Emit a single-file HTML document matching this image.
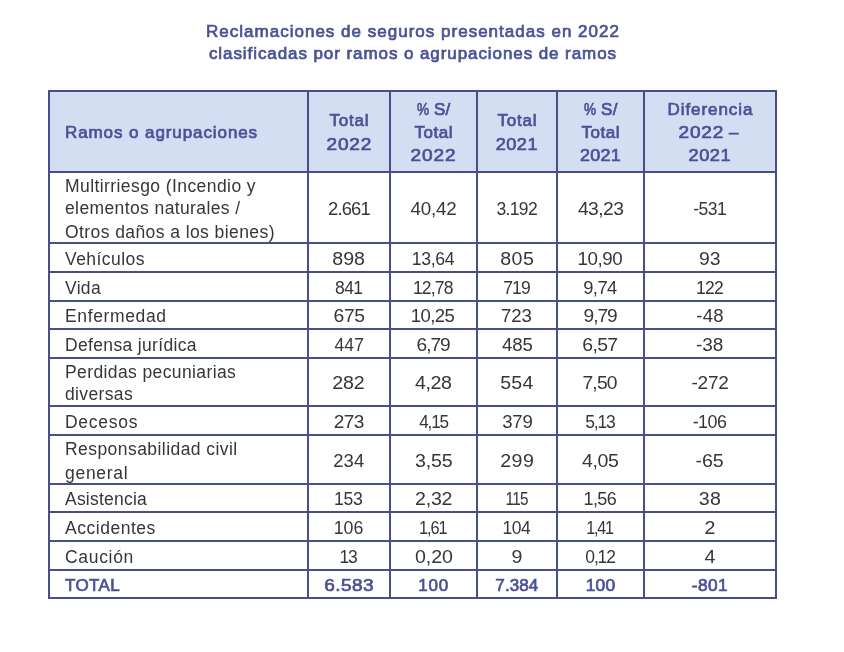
<!DOCTYPE html>
<html lang="es">
<head>
<meta charset="utf-8">
<title>Reclamaciones de seguros 2022</title>
<style>
html,body{margin:0;padding:0;background:#fff;}
body{width:844px;height:652px;position:relative;overflow:hidden;font-family:"Liberation Sans",Arial,sans-serif;}
.title{position:absolute;left:0;top:21px;width:825px;text-align:center;color:#4a5296;font-weight:normal;-webkit-text-stroke:0.7px #4a5296;font-size:17px;line-height:22px;white-space:nowrap;}
table{position:absolute;left:48px;top:90px;border-collapse:collapse;table-layout:fixed;width:729px;}
td,th{border:2px solid #484e88;padding:0;font-size:17.5px;color:#36363a;text-align:center;vertical-align:middle;line-height:22.7px;font-weight:normal;white-space:nowrap;}
td>div,th>div{position:relative;top:1px;}
th{background:#d4def3;color:#4a5296;font-weight:normal;-webkit-text-stroke:0.7px #4a5296;line-height:23.2px;font-size:17px;}
td.l,th.l{text-align:left;padding-left:15px;}
tr.tot td{color:#4a5296;font-weight:normal;-webkit-text-stroke:0.7px #4a5296;font-size:17px;}
.n{display:inline-block;}
.p{display:inline-block;transform:scaleX(0.8);transform-origin:0 50%;margin-right:-3.1px;}
</style>
</head>
<body>
<div class="title"><span style="letter-spacing:1.01px;margin-right:-1.01px">Reclamaciones de seguros presentadas en 2022</span><br><span style="letter-spacing:0.92px;margin-right:-0.92px">clasificadas por ramos o agrupaciones de ramos</span></div>
<table>
<colgroup><col style="width:259px"><col style="width:82px"><col style="width:87px"><col style="width:80px"><col style="width:87px"><col style="width:132px"></colgroup>
<tr style="height:81px"><th class="l"><div><span style="letter-spacing:0.91px;margin-right:-0.91px">Ramos o agrupaciones</span></div></th><th><div><span style="letter-spacing:0.76px;margin-right:-0.76px">Total</span><br><span class="n" style="transform:scaleX(1.120);letter-spacing:0.69px;margin:0 -1.20px 0 -0.50px">2022</span></div></th><th><div><span style="letter-spacing:0.24px;margin-right:-0.24px"><span class="p">%</span> S/</span><br><span style="letter-spacing:0.50px;margin-right:-0.50px">Total</span><br><span class="n" style="transform:scaleX(1.120);letter-spacing:0.77px;margin:0 -1.27px 0 -0.50px">2022</span></div></th><th><div><span style="letter-spacing:0.76px;margin-right:-0.76px">Total</span><br><span class="n" style="transform:scaleX(1.067);letter-spacing:0.47px;margin:0 -0.95px 0 -0.50px">2021</span></div></th><th><div><span style="letter-spacing:0.32px;margin-right:-0.32px"><span class="p">%</span> S/</span><br><span style="letter-spacing:0.50px;margin-right:-0.50px">Total</span><br><span class="n" style="transform:scaleX(1.056);letter-spacing:0.24px;margin:0 -0.72px 0 -0.50px">2021</span></div></th><th><div><span style="letter-spacing:0.92px;margin-right:-0.92px">Diferencia</span><br><span><span class="n" style="transform:scaleX(1.120);letter-spacing:0.69px;margin:0 -1.20px 0 -0.50px">2022</span><span style="letter-spacing:4.00px"> </span>–</span><br><span class="n" style="transform:scaleX(1.072);letter-spacing:0.47px;margin:0 -0.95px 0 -0.50px">2021</span></div></th></tr>
<tr style="height:71px"><td class="l"><div style="top:1.2px"><span style="letter-spacing:0.42px;margin-right:-0.42px">Multirriesgo (Incendio y</span><br><span style="letter-spacing:0.39px;margin-right:-0.39px">elementos naturales /</span><br><span style="position:relative;top:1px;letter-spacing:0.42px;margin-right:-0.42px">Otros daños a los bienes)</span></div></td><td><div style="top:2px"><span class="n" style="transform:scaleX(1.050);letter-spacing:-0.78px;margin:0 -0.07px 0 -0.88px">2.661</span></div></td><td><div style="top:2px"><span class="n" style="transform:scaleX(1.075);letter-spacing:-0.20px;margin:0 -0.68px 0 -0.40px">40,42</span></div></td><td><div style="top:2px"><span class="n" style="letter-spacing:-0.67px;margin:0 -0.21px 0 -0.67px">3.192</span></div></td><td><div style="top:2px"><span class="n" style="transform:scaleX(1.102);letter-spacing:-0.48px;margin:0 -0.29px 0 -0.40px">43,23</span></div></td><td><div style="top:2px"><span class="n" style="letter-spacing:-0.46px;margin:0 -0.39px 0 -0.78px">-531</span></div></td></tr>
<tr style="height:29px"><td class="l"><div style="top:2px"><span style="letter-spacing:0.44px;margin-right:-0.44px">Vehículos</span></div></td><td><div style="top:2px"><span class="n" style="transform:scaleX(1.120);margin:0 -0.76px 0 -0.76px">898</span></div></td><td><div style="top:2px"><span class="n" style="transform:scaleX(1.009);letter-spacing:-0.37px;margin:0 -0.14px 0 -1.33px">13,64</span></div></td><td><div style="top:2px"><span class="n" style="transform:scaleX(1.120);letter-spacing:0.43px;margin:0 -1.17px 0 -0.76px">805</span></div></td><td><div style="top:2px"><span class="n" style="transform:scaleX(1.073);letter-spacing:-0.42px;margin:0 -0.26px 0 -1.33px">10,90</span></div></td><td><div style="top:2px"><span class="n" style="transform:scaleX(1.107);margin:0 -0.77px 0 -0.82px">93</span></div></td></tr>
<tr style="height:29px"><td class="l"><div style="top:2px"><span style="letter-spacing:0.31px;margin-right:-0.31px">Vida</span></div></td><td><div style="top:2px"><span class="n" style="letter-spacing:-0.62px;margin:0 -0.23px 0 -0.76px">841</span></div></td><td><div style="top:2px"><span class="n" style="letter-spacing:-0.78px;margin:0 0.02px 0 -1.33px">12,78</span></div></td><td><div style="top:2px"><span class="n" style="letter-spacing:-0.94px;margin:0 0.12px 0 -0.90px">719</span></div></td><td><div style="top:2px"><span class="n" style="transform:scaleX(1.049);letter-spacing:-0.55px;margin:0 0.04px 0 -0.82px">9,74</span></div></td><td><div style="top:2px"><span class="n" style="letter-spacing:-0.71px;margin:0 -0.17px 0 -1.33px">122</span></div></td></tr>
<tr style="height:28px"><td class="l"><div><span style="letter-spacing:0.64px;margin-right:-0.64px">Enfermedad</span></div></td><td><div><span class="n" style="transform:scaleX(1.105);letter-spacing:-0.34px;margin:0 -0.39px 0 -0.89px">675</span></div></td><td><div><span class="n" style="transform:scaleX(1.060);letter-spacing:-0.56px;margin:0 -0.18px 0 -1.33px">10,25</span></div></td><td><div><span class="n" style="transform:scaleX(1.065);letter-spacing:-0.15px;margin:0 -0.62px 0 -0.90px">723</span></div></td><td><div><span class="n" style="transform:scaleX(1.094);letter-spacing:-0.98px;margin:0 0.15px 0 -0.82px">9,79</span></div></td><td><div><span class="n" style="transform:scaleX(1.062);letter-spacing:0.27px;margin:0 -1.03px 0 -0.78px">-48</span></div></td></tr>
<tr style="height:29px"><td class="l"><div style="top:2px"><span style="letter-spacing:0.34px;margin-right:-0.34px">Defensa jurídica</span></div></td><td><div style="top:2px"><span class="n" style="letter-spacing:0.19px;margin:0 -1.07px 0 -0.40px">447</span></div></td><td><div style="top:2px"><span class="n" style="transform:scaleX(1.095);letter-spacing:-0.96px;margin:0 0.13px 0 -0.89px">6,79</span></div></td><td><div style="top:2px"><span class="n" style="transform:scaleX(1.066);letter-spacing:-0.09px;margin:0 -0.64px 0 -0.40px">485</span></div></td><td><div style="top:2px"><span class="n" style="transform:scaleX(1.107);letter-spacing:-0.58px;margin:0 -0.30px 0 -0.89px">6,57</span></div></td><td><div style="top:2px"><span class="n" style="transform:scaleX(1.085);letter-spacing:0.01px;margin:0 -0.77px 0 -0.78px">-38</span></div></td></tr>
<tr style="height:48px"><td class="l"><div style="top:1.4px"><span style="letter-spacing:0.39px;margin-right:-0.39px">Perdidas pecuniarias</span><br><span style="letter-spacing:0.36px;margin-right:-0.36px">diversas</span></div></td><td><div><span class="n" style="transform:scaleX(1.120);letter-spacing:-0.10px;margin:0 -0.78px 0 -0.88px">282</span></div></td><td><div><span class="n" style="transform:scaleX(1.120);letter-spacing:-0.40px;margin:0 -0.36px 0 -0.40px">4,28</span></div></td><td><div><span class="n" style="transform:scaleX(1.116);letter-spacing:0.21px;margin:0 -0.73px 0 -0.70px">554</span></div></td><td><div><span class="n" style="transform:scaleX(1.103);letter-spacing:-0.73px;margin:0 0.05px 0 -0.90px">7,50</span></div></td><td><div><span class="n" style="transform:scaleX(1.087);letter-spacing:-0.23px;margin:0 -0.65px 0 -0.78px">-272</span></div></td></tr>
<tr style="height:29px"><td class="l"><div style="top:2px"><span style="letter-spacing:0.73px;margin-right:-0.73px">Decesos</span></div></td><td><div style="top:2px"><span class="n" style="transform:scaleX(1.087);letter-spacing:-0.55px;margin:0 -0.22px 0 -0.88px">273</span></div></td><td><div style="top:2px"><span class="n" style="transform:scaleX(0.979);letter-spacing:-1.25px;margin:0 0.52px 0 -0.40px">4,15</span></div></td><td><div style="top:2px"><span class="n" style="transform:scaleX(1.061);letter-spacing:-0.18px;margin:0 -0.65px 0 -0.67px">379</span></div></td><td><div style="top:2px"><span class="n" style="letter-spacing:-1.18px;margin:0 0.41px 0 -0.70px">5,13</span></div></td><td><div style="top:2px"><span class="n" style="transform:scaleX(1.020);letter-spacing:-0.48px;margin:0 -0.29px 0 -0.78px">-106</span></div></td></tr>
<tr style="height:49px"><td class="l"><div style="top:1.4px"><span style="letter-spacing:0.44px;margin-right:-0.44px">Responsabilidad civil</span><br><span style="position:relative;top:1px;letter-spacing:0.71px;margin-right:-0.71px">general</span></div></td><td><div style="top:2px"><span class="n" style="transform:scaleX(1.054);letter-spacing:0.14px;margin:0 -0.65px 0 -0.88px">234</span></div></td><td><div style="top:2px"><span class="n" style="transform:scaleX(1.120);letter-spacing:-0.14px;margin:0 -0.59px 0 -0.67px">3,55</span></div></td><td><div style="top:2px"><span class="n" style="transform:scaleX(1.120);letter-spacing:0.41px;margin:0 -1.24px 0 -0.88px">299</span></div></td><td><div style="top:2px"><span class="n" style="transform:scaleX(1.120);letter-spacing:-0.36px;margin:0 -0.38px 0 -0.40px">4,05</span></div></td><td><div style="top:2px"><span class="n" style="transform:scaleX(1.120);letter-spacing:-0.08px;margin:0 -0.66px 0 -0.78px">-65</span></div></td></tr>
<tr style="height:28px"><td class="l"><div><span style="letter-spacing:0.22px;margin-right:-0.22px">Asistencia</span></div></td><td><div><span class="n" style="transform:scaleX(1.006);letter-spacing:-0.19px;margin:0 -0.58px 0 -1.33px">153</span></div></td><td><div><span class="n" style="transform:scaleX(1.120);letter-spacing:-0.20px;margin:0 -0.68px 0 -0.88px">2,32</span></div></td><td><div><span class="n" style="transform:scaleX(0.874);letter-spacing:-0.87px;margin:0 0.14px 0 -1.33px">115</span></div></td><td><div><span class="n" style="transform:scaleX(1.029);letter-spacing:-0.61px;margin:0 -0.16px 0 -1.33px">1,56</span></div></td><td><div><span class="n" style="transform:scaleX(1.120);letter-spacing:0.35px;margin:0 -1.12px 0 -0.67px">38</span></div></td></tr>
<tr style="height:29px"><td class="l"><div style="top:2px"><span style="letter-spacing:0.53px;margin-right:-0.53px">Accidentes</span></div></td><td><div style="top:2px"><span class="n" style="transform:scaleX(1.019);letter-spacing:-0.06px;margin:0 -0.71px 0 -1.33px">106</span></div></td><td><div style="top:2px"><span class="n" style="transform:scaleX(0.934);letter-spacing:-1.10px;margin:0 0.25px 0 -1.33px">1,61</span></div></td><td><div style="top:2px"><span class="n" style="letter-spacing:-0.48px;margin:0 -0.04px 0 -1.33px">104</span></div></td><td><div style="top:2px"><span class="n" style="transform:scaleX(0.919);letter-spacing:-1.25px;margin:0 0.40px 0 -1.33px">1,41</span></div></td><td><div style="top:2px"><span class="n" style="transform:scaleX(1.120);margin:0 -0.88px 0 -0.88px">2</span></div></td></tr>
<tr style="height:29px"><td class="l"><div style="top:2px"><span style="letter-spacing:0.69px;margin-right:-0.69px">Caución</span></div></td><td><div style="top:2px"><span class="n" style="letter-spacing:-1.25px;margin:0 0.48px 0 -1.33px">13</span></div></td><td><div style="top:2px"><span class="n" style="transform:scaleX(1.120);letter-spacing:-0.06px;margin:0 -0.62px 0 -0.68px">0,20</span></div></td><td><div style="top:2px"><span class="n" style="transform:scaleX(1.120);margin:0 -0.83px 0 -0.82px">9</span></div></td><td><div style="top:2px"><span class="n" style="letter-spacing:-1.15px;margin:0 0.27px 0 -0.68px">0,12</span></div></td><td><div style="top:2px"><span class="n" style="transform:scaleX(1.120);margin:0 -0.51px 0 -0.40px">4</span></div></td></tr>
<tr class="tot" style="height:28px"><td class="l"><div style="top:2.4px"><span style="letter-spacing:0.37px;margin-right:-0.37px">TOTAL</span></div></td><td><div style="top:2.4px"><span class="n" style="transform:scaleX(1.120);letter-spacing:0.37px;margin:0 -0.77px 0 -0.51px">6.583</span></div></td><td><div style="top:2.4px"><span class="n" style="letter-spacing:0.79px;margin:0 -1.10px 0 -0.94px">100</span></div></td><td><div style="top:2.4px"><span class="n" style="letter-spacing:0.09px;margin:0 -0.24px 0 -0.52px">7.384</span></div></td><td><div style="top:2.4px"><span class="n" style="transform:scaleX(1.025);letter-spacing:0.26px;margin:0 -0.58px 0 -0.94px">100</span></div></td><td><div style="top:2.4px"><span class="n" style="transform:scaleX(1.015);letter-spacing:0.46px;margin:0 -0.94px 0 -0.41px">-801</span></div></td></tr>
</table>
</body>
</html>
